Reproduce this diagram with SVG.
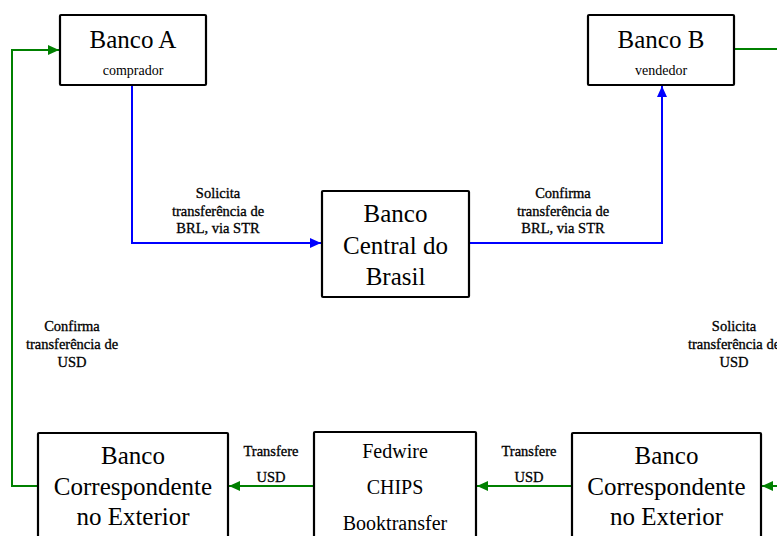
<svg xmlns="http://www.w3.org/2000/svg" width="777" height="536" viewBox="0 0 777 536">
<defs>
<style>
.box{fill:#fff;stroke:#000;stroke-width:2.2}
.t{font-family:"Liberation Serif","Times New Roman",serif;fill:#000;text-anchor:middle}
.big{font-size:25px}
.med{font-size:20px}
.sub{font-size:14px}
.lbl{font-size:14.5px;stroke:#000;stroke-width:0.3}
.blue{fill:none;stroke:#0000ff;stroke-width:2}
.green{fill:none;stroke:#008000;stroke-width:2}
</style>
<marker id="ab" markerUnits="userSpaceOnUse" markerWidth="12" markerHeight="10" refX="11" refY="5" orient="auto">
<path d="M0,0 L11,5 L0,10 Z" fill="#0000ff"/>
</marker>
<marker id="ag" markerUnits="userSpaceOnUse" markerWidth="12" markerHeight="10" refX="11" refY="5" orient="auto">
<path d="M0,0 L11,5 L0,10 Z" fill="#008000"/>
</marker>
</defs>
<rect width="777" height="536" fill="#fff"/>
<g id="connectors">
<path class="blue" d="M132,86 V243 H321" marker-end="url(#ab)"/>
<path class="blue" d="M470,243 H662 V86" marker-end="url(#ab)"/>
<path class="green" d="M37,486 H12 V50 H59" marker-end="url(#ag)"/>
<path class="green" d="M735,49 H800"/>
<path class="green" d="M800,486 H762" marker-end="url(#ag)"/>
<path class="green" d="M313,486 H229" marker-end="url(#ag)"/>
<path class="green" d="M571,486 H477" marker-end="url(#ag)"/>
</g>
<g id="labels">
<text class="t lbl" x="218" y="198">Solicita</text>
<text class="t lbl" x="218" y="216">transferência de</text>
<text class="t lbl" x="218" y="233">BRL, via STR</text>
<text class="t lbl" x="563" y="198">Confirma</text>
<text class="t lbl" x="563" y="216">transferência de</text>
<text class="t lbl" x="563" y="233">BRL, via STR</text>
<text class="t lbl" x="72" y="331">Confirma</text>
<text class="t lbl" x="72" y="349">transferência de</text>
<text class="t lbl" x="72" y="367">USD</text>
<text class="t lbl" x="734" y="331">Solicita</text>
<text class="t lbl" x="734" y="349">transferência de</text>
<text class="t lbl" x="734" y="367">USD</text>
<text class="t lbl" x="271" y="456">Transfere</text>
<text class="t lbl" x="271" y="482">USD</text>
<text class="t lbl" x="529" y="456">Transfere</text>
<text class="t lbl" x="529" y="482">USD</text>
</g>
<g id="bancoA">
<rect class="box" x="60" y="15" width="146" height="70" rx="1"/>
<text class="t big" x="133" y="48">Banco A</text>
<text class="t sub" x="133" y="75">comprador</text>
</g>
<g id="bancoB">
<rect class="box" x="588" y="15" width="146" height="70" rx="1"/>
<text class="t big" x="661" y="48">Banco B</text>
<text class="t sub" x="661" y="75">vendedor</text>
</g>
<g id="bcb">
<rect class="box" x="322" y="191" width="147" height="106" rx="1"/>
<text class="t big" x="395.5" y="222">Banco</text>
<text class="t big" x="395.5" y="254">Central do</text>
<text class="t big" x="395.5" y="285">Brasil</text>
</g>
<g id="correspEsq">
<rect class="box" x="38" y="433" width="190" height="120" rx="1"/>
<text class="t big" x="133" y="464">Banco</text>
<text class="t big" x="133" y="495">Correspondente</text>
<text class="t big" x="133" y="525">no Exterior</text>
</g>
<g id="fedwire">
<rect class="box" x="314" y="432" width="162" height="120" rx="1"/>
<text class="t med" x="395" y="458">Fedwire</text>
<text class="t med" x="395" y="494">CHIPS</text>
<text class="t med" x="395" y="530">Booktransfer</text>
</g>
<g id="correspDir">
<rect class="box" x="572" y="433" width="189" height="120" rx="1"/>
<text class="t big" x="666.5" y="464">Banco</text>
<text class="t big" x="666.5" y="495">Correspondente</text>
<text class="t big" x="666.5" y="525">no Exterior</text>
</g>
</svg>
